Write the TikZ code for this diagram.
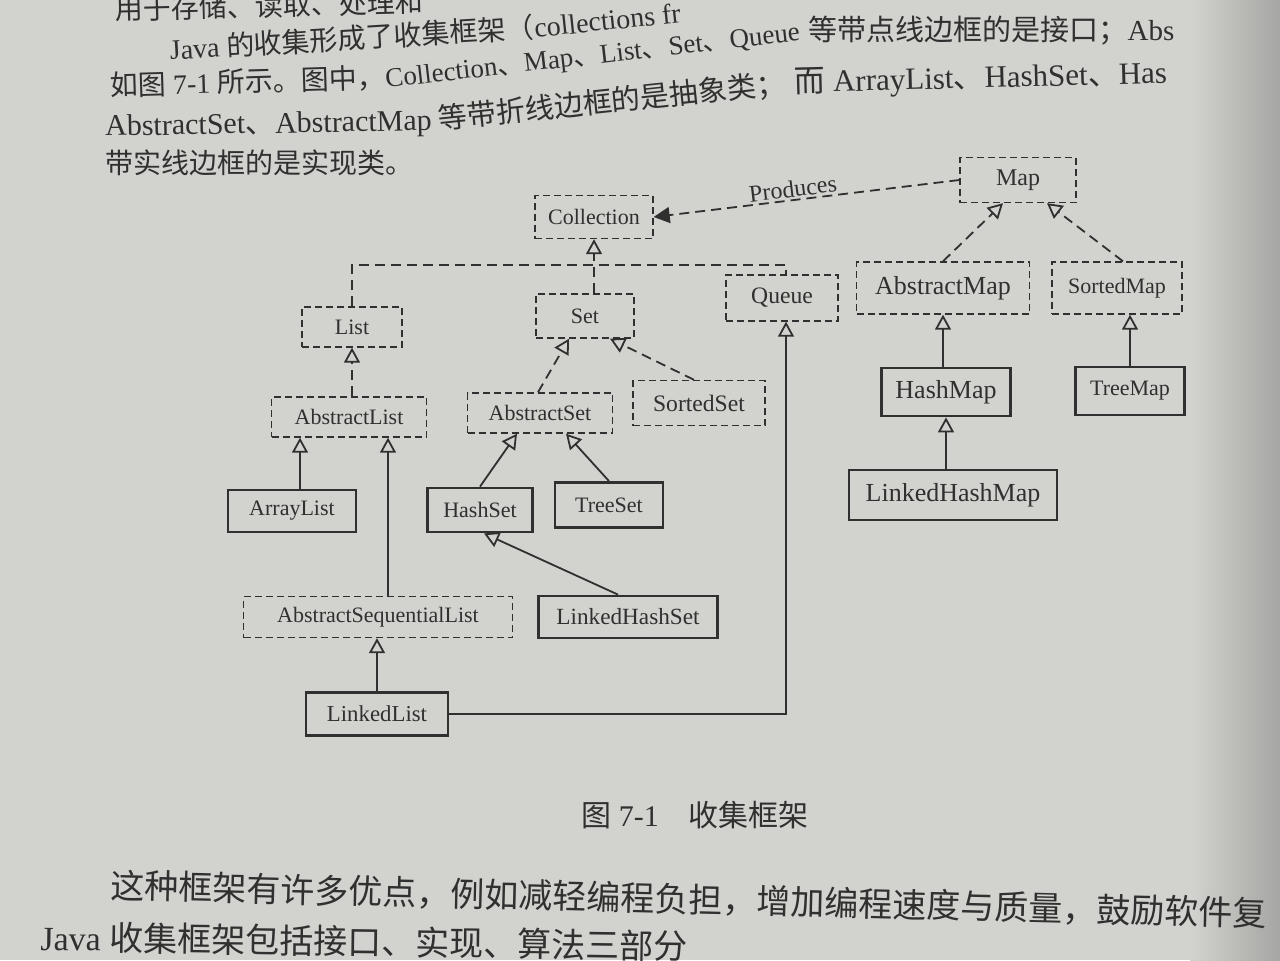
\documentclass[tikz,border=0pt]{standalone}
\usepackage{fontspec}
\setmainfont{Liberation Serif}
\newfontfamily\cjk{Noto Sans CJK SC}
\usetikzlibrary{arrows.meta}
\definecolor{paper}{RGB}{210,210,206}
\definecolor{edgegray}{RGB}{165,165,163}
\definecolor{ink}{RGB}{48,48,48}
\newcommand\zh[1]{{\cjk #1}}
\newcommand\fs[1]{\fontsize{#1}{#1}\selectfont}
\begin{document}
\begin{tikzpicture}[x=0.5pt,y=-0.5pt,
  box/.style={draw=ink, text=ink, font=\fs{11}, inner sep=0pt},
  iface/.style={box, line width=0.7pt, dash pattern=on 3.5pt off 2pt},
  impl/.style={box, line width=1.4pt},
  dconn/.style={draw=ink, line width=0.9pt, dash pattern=on 5pt off 3pt},
  sconn/.style={draw=ink, line width=0.9pt},
  oarr/.style={-{Triangle[open,length=7.5pt,width=8pt,line width=0.9pt]}},
  farr/.style={-{Triangle[length=8pt,width=8pt]}},
  para/.style={text=ink, anchor=base west, inner sep=0pt}
]
\useasboundingbox (0,0) rectangle (1280,960);
\fill[paper] (0,0) rectangle (1280,960);
\shade[left color=paper, right color=edgegray] (1190,0) rectangle (1280,960);

% ---- paragraph text above ----
\node[para, rotate=1.5, font=\fs{14}] (t1) at (115,20) {\zh{用于存储、读取、处理和}};
\node[para, rotate=3.5, font=\fs{14}] (t2a) at (170,60) {Java \zh{的收集形成了收集框架（}};
\node[para, rotate=6, font=\fs{14}] (t2b) at (t2a.base east) {collections fr};
\node[para, rotate=1.7, font=\fs{14}] (t3a) at (110,96) {\zh{如图} 7-1 \zh{所示。图中，}};
\node[para, rotate=6.5, font=\fs{13.5}] (t3b) at (t3a.base east) {Collection\zh{、}Map\zh{、}List\zh{、}Set\zh{、}Queue};
\node[para, rotate=0, font=\fs{14.5}] (t3c) at (t3b.base east) {\ \zh{等带点线边框的是接口；}Abs};
\node[para, rotate=1, font=\fs{15}] (t4a) at (105,136) {AbstractSet\zh{、}AbstractMap};
\node[para, rotate=6, font=\fs{14.5}] (t4b) at (t4a.base east) {\ \zh{等带折线边框的是抽象类；}};
\node[para, rotate=1.5, font=\fs{15.5}] (t4c) at (t4b.base east) {\ \zh{而} ArrayList\zh{、}HashSet\zh{、}Has};
\node[para, font=\fs{14}] (t5) at (105,173) {\zh{带实线边框的是实现类。}};

% ---- nodes ----
\node[iface, minimum width=59pt, minimum height=21.5pt] (Collection) at (594,217) {Collection};
\node[iface, minimum width=58pt, minimum height=22.5pt, font=\fs{12}] (Map) at (1018,180) {Map};
\node[iface, minimum width=50pt, minimum height=20pt] (List) at (352,327) {List};
\node[iface, minimum width=49pt, minimum height=22pt] (Set) at (585,316) {Set};
\node[iface, minimum width=56pt, minimum height=23pt, font=\fs{11.8}] (Queue) at (782,298) {Queue};
\node[iface, minimum width=86.5pt, minimum height=26pt, font=\fs{13}] (AbstractMap) at (943,288) {AbstractMap};
\node[iface, minimum width=65pt, minimum height=26pt] (SortedMap) at (1117,288) {SortedMap};
\node[iface, minimum width=77.5pt, minimum height=20pt] (AbstractList) at (349,417) {AbstractList};
\node[iface, minimum width=72.5pt, minimum height=20pt] (AbstractSet) at (540,413) {AbstractSet};
\node[iface, minimum width=66pt, minimum height=22.5pt, font=\fs{11.8}] (SortedSet) at (699,403) {SortedSet};
\node[impl, minimum width=64.5pt, minimum height=24pt, font=\fs{13}] (HashMap) at (946,392) {HashMap};
\node[impl, minimum width=54.5pt, minimum height=24pt] (TreeMap) at (1130,391) {TreeMap};
\node[impl, minimum width=64pt, minimum height=21pt] (ArrayList) at (292,511) {ArrayList};
\node[impl, minimum width=52.5pt, minimum height=22pt] (HashSet) at (480,510) {HashSet};
\node[impl, minimum width=54pt, minimum height=22.5pt] (TreeSet) at (609,505) {TreeSet};
\node[impl, minimum width=104pt, minimum height=25pt, font=\fs{13}] (LinkedHashMap) at (953,495) {LinkedHashMap};
\node[iface, minimum width=134.5pt, minimum height=20.5pt] (ASL) at (378,617) {AbstractSequentialList};
\node[impl, minimum width=89.5pt, minimum height=21pt, font=\fs{11.6}] (LinkedHashSet) at (628,617) {LinkedHashSet};
\node[impl, minimum width=71pt, minimum height=21.5pt, font=\fs{11.4}] (LinkedList) at (377,714) {LinkedList};

% ---- helper coordinates ----
\coordinate (bus) at (594,265);
\coordinate (ax) at (300,0);
\coordinate (alx) at (388,0);
\coordinate (qx) at (786,0);
\coordinate (tmx) at (1130,0);

% ---- connectors ----
\draw[dconn, farr] (Map.west) -- node[pos=0.54, above=1pt, sloped, inner sep=0pt, text=ink, font=\fs{12}] (prod) {Produces} (Collection.east);
\draw[dconn] (List.north) |- (bus) -| (Queue.north -| qx);
\draw[dconn, oarr] (bus |- Set.north) -- (bus |- Collection.south);
\draw[dconn, oarr] (AbstractList.north -| List.south) -- (List.south);
\draw[dconn, oarr] ([xshift=-1pt]AbstractSet.north) -- ([xshift=-8pt]Set.south);
\draw[dconn, oarr] ([xshift=-2.5pt]SortedSet.north) -- ([xshift=12.5pt]Set.south);
\draw[dconn, oarr] (AbstractMap.north) -- ([xshift=-7.5pt]Map.south);
\draw[dconn, oarr] ([xshift=3pt]SortedMap.north) -- ([xshift=14.5pt]Map.south);

\draw[sconn, oarr] (ArrayList.north -| ax) -- (AbstractList.south -| ax);
\draw[sconn, oarr] (ASL.north -| alx) -- (AbstractList.south -| alx);
\draw[sconn, oarr] (HashSet.north) -- ([xshift=-11.5pt]AbstractSet.south);
\draw[sconn, oarr] (TreeSet.north) -- ([xshift=13pt]AbstractSet.south);
\draw[sconn, oarr] ([xshift=-5pt]LinkedHashSet.north) -- ([xshift=2pt]HashSet.south);
\draw[sconn, oarr] (LinkedList.north) -- (LinkedList.north |- ASL.south);
\draw[sconn, oarr] (LinkedList.east) -| (Queue.south -| qx);
\draw[sconn, oarr] (HashMap.north -| AbstractMap.south) -- (AbstractMap.south);
\draw[sconn, oarr] (TreeMap.north -| tmx) -- (SortedMap.south -| tmx);
\draw[sconn, oarr] (LinkedHashMap.north -| HashMap.south) -- (HashMap.south);

% ---- caption and text below ----
\node[text=ink, inner sep=0pt, font=\fs{15}] (cap) at (695,815) {\zh{图} 7-1\quad\zh{收集框架}};
\node[para, rotate=-1.4, font=\fs{17}] (b1) at (110,898) {\zh{这种框架有许多优点，例如减轻编程负担，增加编程速度与质量，鼓励软件复}};
\node[para, rotate=-0.8, font=\fs{17}] (b2) at (40,950) {Java \zh{收集框架包括接口、实现、算法三部分}};
\end{tikzpicture}
\end{document}
